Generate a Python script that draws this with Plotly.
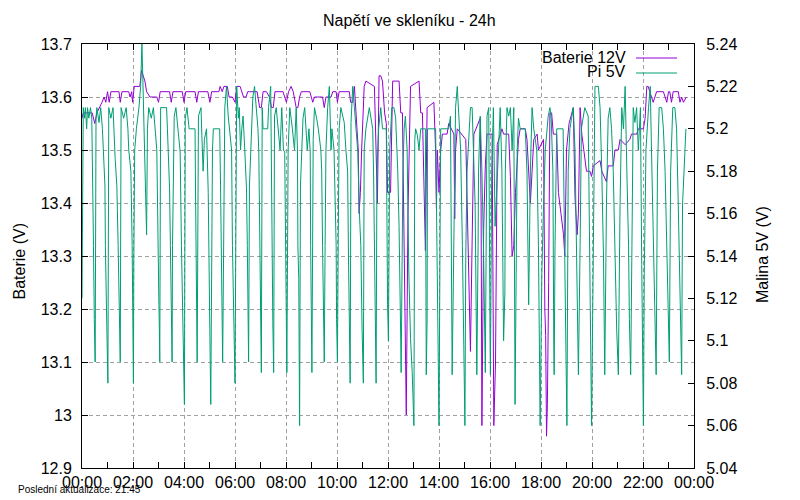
import pandas as pd
import plotly.graph_objects as go

# den, ke kteremu se casy vztahuji (minuty od pulnoci)
day = pd.Timestamp("2024-04-20")

# Baterie 12V (leva osa)
bat_t = [0, 3, 24, 30, 35, 42, 47, 52, 56, 60,
         64, 68, 87, 90, 94, 110, 113, 117, 119, 123,
         136, 140, 144, 148, 152, 160, 176, 180, 184, 206,
         210, 214, 236, 240, 244, 266, 270, 274, 296, 301,
         305, 322, 325, 330, 334, 342, 346, 354, 360, 364,
         372, 380, 386, 390, 394, 412, 418, 422, 426, 434,
         441, 446, 450, 454, 473, 481, 486, 492, 497, 504,
         508, 512, 516, 536, 543, 547, 555, 566, 570, 574,
         586, 590, 598, 601, 605, 629, 632, 637, 641, 645,
         650, 652, 655, 658, 664, 668, 688, 690, 692, 695,
         699, 703, 707, 712, 716, 719, 726, 729, 731, 746,
         750, 754, 758, 761, 763, 767, 773, 793, 797, 801,
         805, 808, 812, 828, 832, 834, 836, 840, 844, 848,
         859, 863, 875, 877, 879, 883, 903, 910, 914, 918,
         922, 937, 939, 941, 945, 949, 953, 965, 967, 969,
         973, 977, 988, 992, 1004, 1008, 1012, 1016, 1020, 1027,
         1031, 1043, 1047, 1051, 1055, 1063, 1071, 1074, 1086, 1089,
         1091, 1093, 1095, 1098, 1101, 1105, 1109, 1117, 1121, 1127,
         1133, 1136, 1140, 1146, 1152, 1156, 1160, 1165, 1168, 1172,
         1176, 1183, 1187, 1195, 1199, 1203, 1219, 1223, 1234, 1238,
         1250, 1254, 1262, 1266, 1278, 1289, 1293, 1305, 1309, 1321,
         1325, 1329, 1332, 1340, 1344, 1352, 1356, 1368, 1376, 1380,
         1383, 1387, 1391, 1403, 1407, 1411, 1415, 1422]
bat_v = [13.56, 13.57, 13.57, 13.55, 13.57, 13.58, 13.59, 13.60, 13.59, 13.61,
         13.59, 13.61, 13.61, 13.59, 13.61, 13.61, 13.60, 13.61, 13.59, 13.62,
         13.62, 13.65, 13.64, 13.63, 13.61, 13.60, 13.60, 13.59, 13.61, 13.61,
         13.59, 13.61, 13.61, 13.59, 13.61, 13.61, 13.59, 13.61, 13.61, 13.59,
         13.61, 13.61, 13.62, 13.61, 13.62, 13.62, 13.60, 13.60, 13.59, 13.62,
         13.62, 13.60, 13.60, 13.61, 13.61, 13.61, 13.58, 13.58, 13.61, 13.61,
         13.60, 13.58, 13.58, 13.61, 13.61, 13.59, 13.61, 13.62, 13.61, 13.58,
         13.58, 13.60, 13.61, 13.61, 13.59, 13.60, 13.60, 13.60, 13.58, 13.60,
         13.60, 13.61, 13.61, 13.59, 13.61, 13.61, 13.59, 13.59, 13.62, 13.57,
         13.50, 13.38, 13.42, 13.50, 13.62, 13.63, 13.62, 13.56, 13.50, 13.40,
         13.64, 13.64, 13.63, 13.57, 13.55, 13.42, 13.42, 13.60, 13.63, 13.63,
         13.57, 13.57, 13.30, 13.10, 13.00, 13.38, 13.62, 13.63, 13.57, 13.57,
         13.42, 13.31, 13.58, 13.59, 13.50, 13.39, 13.50, 13.42, 13.50, 13.53,
         13.53, 13.55, 13.53, 13.37, 13.50, 13.54, 13.52, 13.26, 13.12, 13.33,
         13.53, 13.56, 13.40, 12.98, 13.35, 13.47, 13.53, 13.53, 13.30, 12.98,
         13.10, 13.51, 13.54, 13.53, 13.53, 13.45, 13.30, 13.32, 13.42, 13.52,
         13.54, 13.54, 13.52, 13.45, 13.40, 13.52, 13.53, 13.50, 13.52, 13.20,
         13.15, 12.96, 13.02, 13.25, 13.57, 13.57, 13.53, 13.53, 13.42, 13.38,
         13.34, 13.30, 13.50, 13.55, 13.57, 13.58, 13.41, 13.34, 13.38, 13.58,
         13.53, 13.48, 13.46, 13.46, 13.45, 13.47, 13.48, 13.46, 13.44, 13.47,
         13.47, 13.50, 13.50, 13.52, 13.51, 13.52, 13.53, 13.53, 13.54, 13.54,
         13.56, 13.62, 13.62, 13.60, 13.59, 13.61, 13.61, 13.61, 13.59, 13.61,
         13.61, 13.59, 13.61, 13.61, 13.59, 13.60, 13.59, 13.60]

# Pi 5V (prava osa)
pi_t = [0, 1, 2, 3, 6, 8, 11, 13, 16, 20,
        23, 24, 26, 27, 29, 31, 33, 35, 40, 44,
        48, 50, 54, 55, 57, 59, 61, 63, 68, 73,
        78, 82, 85, 88, 90, 92, 98, 104, 108, 110,
        115, 118, 119, 121, 122, 124, 128, 134, 138, 141,
        143, 146, 149, 151, 152, 154, 157, 163, 168, 176,
        178, 181, 182, 183, 185, 199, 201, 203, 206, 208,
        210, 212, 213, 215, 217, 221, 226, 231, 234, 238,
        241, 243, 247, 252, 266, 267, 268, 270, 271, 274,
        280, 282, 285, 288, 293, 297, 299, 301, 303, 305,
        307, 309, 324, 326, 328, 330, 331, 336, 340, 344,
        352, 354, 357, 360, 364, 368, 370, 373, 376, 379,
        383, 387, 389, 391, 392, 394, 397, 400, 402, 406,
        410, 414, 416, 418, 420, 422, 424, 426, 437, 439,
        444, 445, 447, 449, 451, 453, 457, 462, 466, 470,
        474, 477, 479, 481, 482, 485, 489, 495, 500, 504,
        507, 508, 510, 511, 512, 514, 517, 520, 524, 530,
        534, 537, 538, 540, 541, 544, 547, 552, 556, 562,
        564, 566, 568, 570, 572, 574, 578, 582, 586, 588,
        593, 598, 599, 601, 603, 605, 609, 617, 621, 625,
        627, 629, 631, 633, 637, 641, 645, 649, 652, 656,
        659, 662, 664, 668, 676, 684, 686, 688, 690, 692,
        694, 698, 703, 707, 716, 717, 719, 721, 724, 729,
        734, 738, 743, 746, 748, 750, 751, 753, 755, 758,
        761, 765, 769, 773, 777, 781, 783, 785, 789, 793,
        797, 808, 810, 812, 813, 832, 834, 837, 840, 842,
        844, 863, 867, 871, 875, 879, 883, 887, 891, 895,
        899, 901, 903, 906, 914, 918, 925, 928, 929, 932,
        933, 937, 941, 945, 949, 953, 957, 960, 961, 964,
        968, 972, 976, 980, 984, 988, 992, 995, 996, 1000,
        1004, 1008, 1012, 1016, 1019, 1022, 1024, 1027, 1031, 1043,
        1047, 1051, 1053, 1055, 1059, 1063, 1070, 1074, 1078, 1082,
        1086, 1090, 1097, 1101, 1104, 1108, 1110, 1111, 1113, 1117,
        1132, 1136, 1140, 1141, 1144, 1148, 1152, 1156, 1160, 1166,
        1168, 1172, 1175, 1179, 1183, 1191, 1195, 1198, 1199, 1203,
        1207, 1215, 1219, 1223, 1227, 1230, 1234, 1238, 1242, 1246,
        1250, 1258, 1262, 1266, 1270, 1274, 1278, 1282, 1286, 1288,
        1291, 1294, 1297, 1301, 1305, 1309, 1314, 1317, 1319, 1321,
        1323, 1327, 1333, 1337, 1340, 1344, 1348, 1351, 1354, 1358,
        1364, 1368, 1372, 1376, 1379, 1382, 1385, 1390, 1395, 1399,
        1403, 1407, 1409, 1411, 1413, 1417, 1421]
pi_v = [5.12, 5.15, 5.19, 5.21, 5.205, 5.21, 5.20, 5.21, 5.205, 5.21,
        5.205, 5.182, 5.165, 5.145, 5.11, 5.09, 5.205, 5.21, 5.203, 5.21,
        5.20, 5.19, 5.173, 5.145, 5.112, 5.10, 5.08, 5.21, 5.205, 5.21,
        5.186, 5.173, 5.145, 5.117, 5.09, 5.21, 5.205, 5.21, 5.20, 5.19,
        5.18, 5.145, 5.10, 5.08, 5.14, 5.19, 5.20, 5.21, 5.22, 5.24,
        5.225, 5.20, 5.178, 5.162, 5.15, 5.20, 5.21, 5.205, 5.21, 5.19,
        5.145, 5.117, 5.106, 5.09, 5.21, 5.21, 5.20, 5.19, 5.172, 5.145,
        5.112, 5.09, 5.145, 5.19, 5.206, 5.21, 5.20, 5.189, 5.145, 5.095,
        5.07, 5.205, 5.21, 5.20, 5.20, 5.173, 5.145, 5.117, 5.09, 5.206,
        5.21, 5.197, 5.18, 5.195, 5.20, 5.17, 5.145, 5.101, 5.07, 5.164,
        5.19, 5.20, 5.20, 5.173, 5.145, 5.117, 5.09, 5.21, 5.22, 5.206,
        5.19, 5.145, 5.117, 5.08, 5.22, 5.205, 5.21, 5.19, 5.20, 5.206,
        5.19, 5.172, 5.145, 5.117, 5.09, 5.173, 5.19, 5.206, 5.215, 5.22,
        5.21, 5.20, 5.189, 5.145, 5.101, 5.085, 5.21, 5.20, 5.20, 5.21,
        5.22, 5.189, 5.145, 5.109, 5.085, 5.206, 5.21, 5.20, 5.19, 5.21,
        5.19, 5.189, 5.145, 5.103, 5.085, 5.19, 5.21, 5.20, 5.19, 5.21,
        5.19, 5.145, 5.129, 5.095, 5.06, 5.173, 5.19, 5.205, 5.21, 5.19,
        5.20, 5.189, 5.145, 5.104, 5.085, 5.195, 5.21, 5.205, 5.20, 5.19,
        5.18, 5.145, 5.117, 5.09, 5.145, 5.19, 5.21, 5.22, 5.19, 5.20,
        5.19, 5.145, 5.11, 5.09, 5.15, 5.20, 5.21, 5.203, 5.19, 5.18,
        5.14, 5.101, 5.08, 5.203, 5.22, 5.21, 5.20, 5.189, 5.164, 5.145,
        5.106, 5.08, 5.19, 5.20, 5.21, 5.20, 5.18, 5.145, 5.101, 5.08,
        5.18, 5.20, 5.21, 5.20, 5.20, 5.145, 5.117, 5.10, 5.19, 5.21,
        5.21, 5.205, 5.18, 5.154, 5.11, 5.10, 5.085, 5.14, 5.18, 5.20,
        5.206, 5.19, 5.132, 5.101, 5.085, 5.06, 5.195, 5.20, 5.197, 5.19,
        5.20, 5.20, 5.084, 5.11, 5.20, 5.20, 5.164, 5.132, 5.06, 5.132,
        5.20, 5.20, 5.206, 5.084, 5.145, 5.21, 5.22, 5.206, 5.19, 5.145,
        5.101, 5.06, 5.14, 5.18, 5.21, 5.21, 5.164, 5.112, 5.084, 5.145,
        5.18, 5.206, 5.18, 5.14, 5.085, 5.206, 5.21, 5.103, 5.084, 5.18,
        5.21, 5.154, 5.17, 5.19, 5.21, 5.18, 5.10, 5.123, 5.18, 5.21,
        5.206, 5.21, 5.19, 5.21, 5.07, 5.132, 5.19, 5.205, 5.20, 5.20,
        5.18, 5.117, 5.145, 5.18, 5.21, 5.20, 5.19, 5.145, 5.06, 5.132,
        5.164, 5.19, 5.206, 5.21, 5.205, 5.18, 5.10, 5.084, 5.145, 5.20,
        5.20, 5.139, 5.085, 5.06, 5.18, 5.20, 5.205, 5.21, 5.19, 5.10,
        5.084, 5.145, 5.20, 5.205, 5.21, 5.206, 5.145, 5.087, 5.06, 5.14,
        5.22, 5.22, 5.21, 5.18, 5.14, 5.084, 5.164, 5.205, 5.21, 5.20,
        5.18, 5.106, 5.084, 5.164, 5.21, 5.20, 5.22, 5.18, 5.145, 5.11,
        5.084, 5.145, 5.21, 5.203, 5.21, 5.19, 5.21, 5.136, 5.09, 5.06,
        5.132, 5.19, 5.21, 5.22, 5.19, 5.145, 5.101, 5.084, 5.18, 5.21,
        5.21, 5.20, 5.18, 5.145, 5.109, 5.09, 5.18, 5.21, 5.21, 5.20,
        5.164, 5.123, 5.099, 5.084, 5.164, 5.18, 5.20]

x_hours = [0, 2, 4, 6, 8, 10, 12, 14, 16, 18, 20, 22, 24]
x_labels = ["00:00", "02:00", "04:00", "06:00", "08:00", "10:00", "12:00",
            "14:00", "16:00", "18:00", "20:00", "22:00", "00:00"]
y1_ticks = [12.9, 13.0, 13.1, 13.2, 13.3, 13.4, 13.5, 13.6, 13.7]
y1_labels = ["12.9", "13", "13.1", "13.2", "13.3", "13.4", "13.5", "13.6", "13.7"]
y2_ticks = [5.04, 5.06, 5.08, 5.10, 5.12, 5.14, 5.16, 5.18, 5.20, 5.22, 5.24]
y2_labels = ["5.04", "5.06", "5.08", "5.1", "5.12", "5.14", "5.16", "5.18", "5.2", "5.22", "5.24"]

FONT = "Liberation Sans, Arial, sans-serif"
PURPLE = "#9400d3"
GREEN = "#009e73"
GRID = "#a0a0a0"
GRID_DASH = "4px,3px"

# stranka ma okraj 8 px, proto je vse posunuto o 8 px doleva a nahoru
OFF = 8
PL, PR, PT, PB = 82 - OFF, 694 - OFF, 44 - OFF, 468 - OFF
PW, PH = PR - PL, PB - PT


def to_time(mins):
    return day + pd.to_timedelta(mins, unit="min")


def px(xp):
    return (xp - OFF - PL) / PW


def py(yp):
    return (PB - (yp - OFF)) / PH


fig = go.Figure()
fig.add_trace(go.Scatter(x=to_time(bat_t), y=bat_v, mode="lines",
                         line=dict(color=PURPLE, width=1), name="Baterie 12V"))
fig.add_trace(go.Scatter(x=to_time(pi_t), y=pi_v, mode="lines", yaxis="y2",
                         line=dict(color=GREEN, width=1), name="Pi 5V"))

fig.update_layout(
    width=800, height=500,
    margin=dict(l=PL, r=800 - PR, t=PT, b=500 - PB, autoexpand=False),
    paper_bgcolor="white", plot_bgcolor="white",
    font=dict(family=FONT, size=16, color="black"),
    showlegend=False,
    title=dict(text="Napětí ve skleníku - 24h", x=px(389), xanchor="center",
               y=1 - (20 - OFF) / 500, yanchor="middle", font=dict(size=16)),
    xaxis=dict(
        range=[day, day + pd.Timedelta(hours=24)],
        tickmode="array",
        tickvals=[day + pd.Timedelta(hours=h) for h in x_hours],
        ticktext=x_labels,
        ticks="inside", ticklen=6, tickcolor="black",
        minor=dict(tickvals=[day + pd.Timedelta(hours=h) for h in range(1, 24, 2)],
                   ticks="inside", ticklen=3, tickcolor="black", showgrid=False),
        showgrid=True, gridcolor=GRID, griddash=GRID_DASH, gridwidth=1,
        showline=True, linecolor="black", linewidth=1, mirror="allticks",
        zeroline=False,
    ),
    yaxis=dict(
        range=[12.9, 13.7],
        tickmode="array", tickvals=y1_ticks, ticktext=y1_labels,
        ticks="inside", ticklen=6, tickcolor="black",
        showgrid=True, gridcolor=GRID, griddash=GRID_DASH, gridwidth=1,
        showline=True, linecolor="black", linewidth=1,
        zeroline=False, ticklabelstandoff=6,
    ),
    yaxis2=dict(
        range=[5.04, 5.24], overlaying="y", side="right",
        tickmode="array", tickvals=y2_ticks, ticktext=y2_labels,
        ticks="inside", ticklen=6, tickcolor="black",
        showgrid=False,
        showline=True, linecolor="black", linewidth=1,
        zeroline=False, ticklabelstandoff=8,
    ),
)

# popisky os (gnuplot styl)
fig.add_annotation(text="Baterie (V)", xref="paper", yref="paper",
                   x=px(9), y=py(262), textangle=-90,
                   showarrow=False, xanchor="left", yanchor="middle")
fig.add_annotation(text="Malina 5V (V)", xref="paper", yref="paper",
                   x=px(762), y=py(255), textangle=-90,
                   showarrow=False, xanchor="center", yanchor="middle")
fig.add_annotation(text="Poslední aktualizace: 21:45", xref="paper", yref="paper",
                   x=px(16), y=py(489), showarrow=False,
                   xanchor="left", yanchor="middle", font=dict(size=10))

# legenda vpravo nahore: text a za nim cara
for name, color, ypos in [("Baterie 12V", PURPLE, 57), ("Pi 5V", GREEN, 72)]:
    fig.add_annotation(text=name, xref="paper", yref="paper",
                       x=px(628), y=py(ypos), showarrow=False,
                       xanchor="right", yanchor="middle")
    fig.add_shape(type="line", xref="paper", yref="paper",
                  x0=px(636), x1=px(677), y0=py(ypos + 1), y1=py(ypos + 1),
                  line=dict(color=color, width=1))

fig.write_html("out.html")
